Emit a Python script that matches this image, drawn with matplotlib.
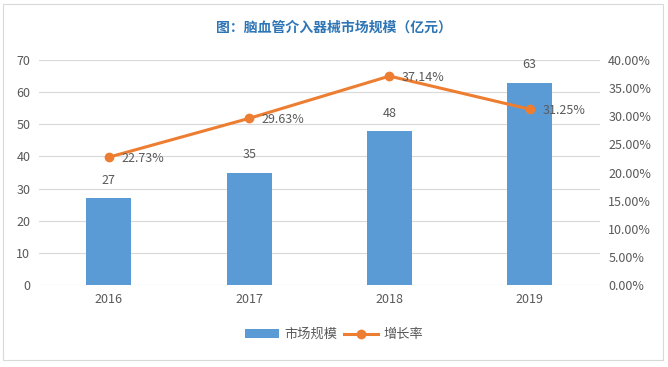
import matplotlib
matplotlib.use("Agg")
import matplotlib.pyplot as plt
from matplotlib.patches import Rectangle
from matplotlib.ticker import FuncFormatter

plt.rcParams['font.family'] = ['Noto Sans CJK SC', 'DejaVu Sans']

years = ['2016', '2017', '2018', '2019']
market = [27, 35, 48, 63]
growth = [22.73, 29.63, 37.14, 31.25]
title = '图：脑血管介入器械市场规模（亿元）'
bar_label = '市场规模'
line_label = '增长率'

BLUE = '#5B9BD5'
ORANGE = '#ED7D31'
GRAY = '#595959'

fig = plt.figure(figsize=(6.68, 3.67), dpi=100)
fig.patches.append(Rectangle((0.005, 0.02), 0.987, 0.97, transform=fig.transFigure,
                             fill=False, edgecolor='#D9D9D9', linewidth=0.8))
ax = fig.add_axes([0.058, 0.2234, 0.84, 0.6131])
ax2 = ax.twinx()

x = range(len(years))
bars = ax.bar(x, market, width=0.32, color=BLUE, zorder=2, label=bar_label)
ax.set_ylim(0, 70)
ax.set_yticks(range(0, 71, 10))
ax.set_xlim(-0.5, len(years) - 0.5)
ax.set_xticks(list(x))
ax.set_xticklabels(years)
ax.grid(axis='y', color='#D9D9D9', linewidth=0.8, zorder=0)
ax.set_axisbelow(True)
for s in ax.spines.values():
    s.set_visible(False)
for s in ax2.spines.values():
    s.set_visible(False)
ax.tick_params(axis='both', length=0, labelsize=9, labelcolor=GRAY, pad=6)
for xi, v in zip(x, market):
    ax.annotate(str(v), (xi, v), xytext=(0, 8), textcoords='offset points',
                ha='center', va='bottom', fontsize=9, color=GRAY)

line, = ax2.plot(list(x), growth, color=ORANGE, linewidth=2.2, marker='o',
                 markersize=6, zorder=3, label=line_label)
ax2.set_ylim(0, 40)
ax2.set_yticks(range(0, 41, 5))
ax2.yaxis.set_major_formatter(FuncFormatter(lambda v, p: f'{v:.2f}%'))
ax2.tick_params(axis='y', length=0, labelsize=9, labelcolor=GRAY, pad=6)
for xi, v in zip(x, growth):
    ax2.annotate(f'{v:.2f}%', (xi, v), xytext=(9, -1), textcoords='offset points',
                 ha='left', va='center', fontsize=9, color=GRAY)

fig.text(0.5, 0.925, title, ha='center', va='center', fontsize=10,
         fontweight='bold', color='#2E75B6')

fig.legend(handles=[bars, line], labels=[bar_label, line_label], loc='center',
           bbox_to_anchor=(0.5, 0.088), ncol=2, frameon=False, fontsize=9.5,
           labelcolor=GRAY, handlelength=2.6, columnspacing=0.5, handletextpad=0.4)

fig.savefig('out.png', dpi=100)
